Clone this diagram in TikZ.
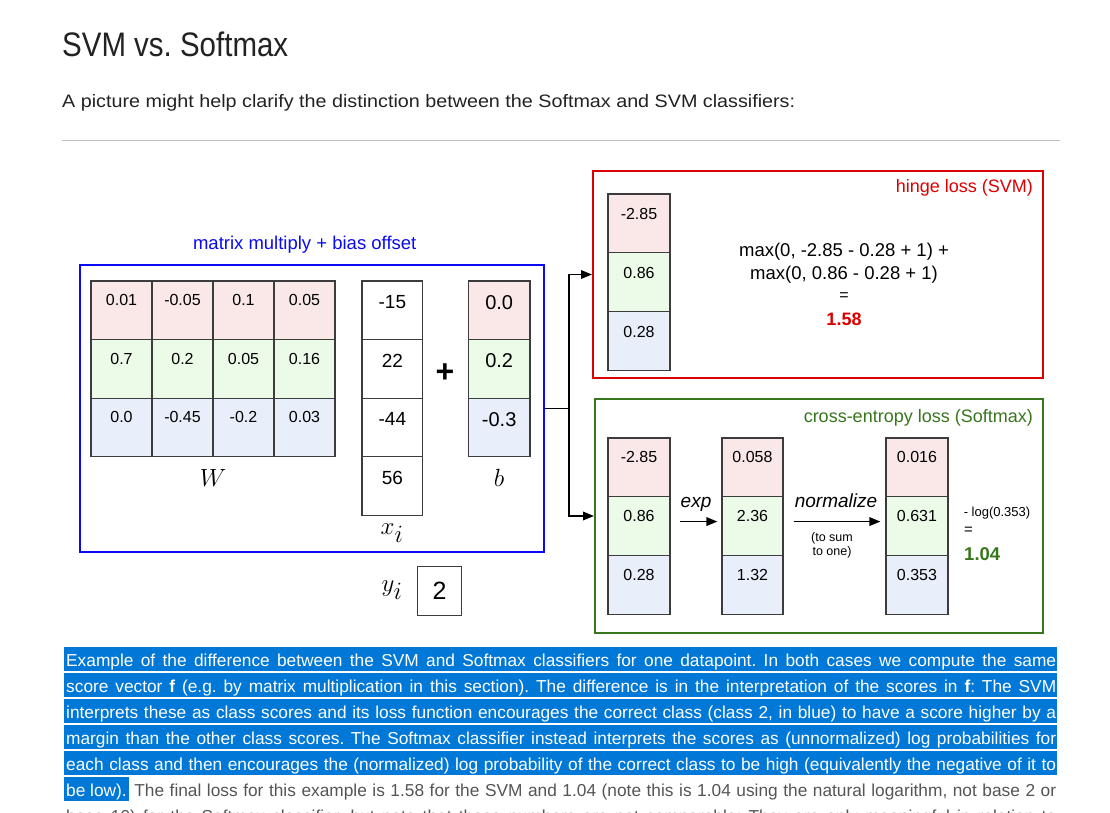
\documentclass[tikz,border=0pt]{standalone}
\usepackage{fontspec}
\usepackage{graphicx}
\setmainfont{Liberation Sans}
\usetikzlibrary{arrows.meta,calc}
\definecolor{pinkc}{RGB}{250,232,232}
\definecolor{greenc}{RGB}{236,250,232}
\definecolor{bluec}{RGB}{232,238,250}
\definecolor{cellgray}{RGB}{60,60,60}
\definecolor{boxblue}{RGB}{10,10,245}
\definecolor{boxred}{RGB}{220,0,0}
\definecolor{boxgreen}{RGB}{56,118,29}
\definecolor{hlblue}{RGB}{0,120,215}
\definecolor{bodygray}{RGB}{85,85,85}
\definecolor{titlec}{RGB}{34,34,34}
\definecolor{rulec}{RGB}{190,190,190}
\frenchspacing
\newdimen\fitlen
\newcommand\fitx[2]{\settowidth\fitlen{#2}\pgfmathsetmacro\fitfac{#1/\fitlen}\scalebox{\fitfac}[1]{#2}}
\newcommand\jline[1]{\settowidth\fitlen{#1}\ifdim\fitlen>990pt \pgfmathsetmacro\fitfac{990/\fitlen}\scalebox{\fitfac}[1]{#1}\else\makebox[990pt][s]{#1}\fi}
\newcommand\hlw[1]{\kern-2pt{\setlength\fboxsep{0pt}\colorbox{hlblue}{\rule[-5pt]{0pt}{24pt}\kern2pt\textcolor{white}{#1}\kern2pt}}}
\newcommand\capfont{\fontsize{17.3}{17.3}\selectfont}
\begin{document}
\begin{tikzpicture}[x=1pt,y=-1pt,
  cell/.style={draw=cellgray, line width=1.2pt, inner sep=0pt, anchor=center},
  txt/.style={inner sep=0pt},
  wnum/.style={txt, font=\fontsize{16}{16}\selectfont},
  vnum/.style={txt, font=\fontsize{16}{16}\selectfont},
  xnum/.style={txt, font=\fontsize{19}{19}\selectfont},
  bnum/.style={txt, font=\fontsize{20}{20}\selectfont},
  mathlbl/.style={txt, font=\fontsize{34}{34}\selectfont},
  arr/.style={line width=1.8pt, -{Triangle[length=11pt,width=8.5pt]}},
  bigbox/.style={line width=2pt, inner sep=0pt, fill=none},
  caption/.style={txt, anchor=base west, font=\capfont}
]
\useasboundingbox (0,0) rectangle (1110,812);
\fill[white] (0,0) rectangle (1110,812);

% page header
\node[txt, anchor=base west, text=titlec] (title) at (62,56) {\fitx{226}{\fontsize{34}{34}\selectfont SVM vs. Softmax}};
\node[txt, anchor=base west, text=titlec] (intro) at (62,107) {\fitx{733}{\fontsize{18}{18}\selectfont A picture might help clarify the distinction between the Softmax and SVM classifiers:}};
\draw[rulec, line width=1.5pt] (62,140.5) -- (1060,140.5);

% ---------- matrix multiply box ----------
\node[bigbox, draw=boxblue, minimum width=464.3pt, minimum height=287.6pt] (mm) at (312.15,408.5) {};
\node[txt, text=boxblue, font=\fontsize{18.5}{18.5}\selectfont] (mmlbl) at (304.7,245) {matrix multiply + bias offset};

% W
\foreach \r/\fc in {0/pinkc,1/greenc,2/bluec}{
  \foreach \c in {0,1,2,3}{
    \node[cell, fill=\fc, minimum width=61pt, minimum height=58.6pt] (W\r\c) at ({121.5+61*\c},{310.3+58.6*\r}) {};
  }
}
\foreach \r/\c/\v in {0/0/0.01,0/1/-0.05,0/2/0.1,0/3/0.05,
                      1/0/0.7,1/1/0.2,1/2/0.05,1/3/0.16,
                      2/0/0.0,2/1/-0.45,2/2/-0.2,2/3/0.03}{
  \node[wnum] (Wt\r\c) at ($(W\r\c.north)+(0,19.7)$) {\v};
}
\node[mathlbl] (Wl) at (213,478) {$W$};

% x_i
\foreach \r/\v in {0/-15,1/22,2/-44,3/56}{
  \node[cell, fill=white, minimum width=60.7pt, minimum height=58.6pt] (X\r) at ({392.35},{310.3+58.6*\r}) {};
  \node[xnum] (Xt\r) at ($(X\r.north)+(0,21.5)$) {\v};
}
\node[mathlbl] (Xl) at (392,533) {$x_i$};

% plus
\node[txt, font=\fontsize{32}{32}\selectfont\bfseries] (plus) at (445,373) {+};

% b
\foreach \r/\fc/\v in {0/pinkc/0.0,1/greenc/0.2,2/bluec/-0.3}{
  \node[cell, fill=\fc, minimum width=61.7pt, minimum height=58.6pt] (B\r) at ({499.15},{310.3+58.6*\r}) {};
  \node[bnum] (Bt\r) at ($(B\r.north)+(0,22)$) {\v};
}
\node[mathlbl] (Bl) at (499,478) {$b$};

% y_i
\node[mathlbl] (Yl) at (392,590) {$y_i$};
\node[cell, fill=white, minimum width=44.4pt, minimum height=49pt] (Y) at (439.5,591.2) {};
\node[txt, font=\fontsize{25}{25}\selectfont] (Yt) at (Y.center) {2};

% ---------- hinge loss box ----------
\node[bigbox, draw=boxred, minimum width=450pt, minimum height=207pt] (svm) at (818,274.5) {};
\node[txt, anchor=east, text=boxred, font=\fontsize{18}{18}\selectfont] (svmlbl) at (1033,188) {hinge loss (SVM)};
\foreach \r/\fc/\v in {0/pinkc/-2.85,1/greenc/0.86,2/bluec/0.28}{
  \node[cell, fill=\fc, minimum width=62pt, minimum height=58.7pt] (S\r) at (639,{223.35+58.7*\r}) {};
  \node[vnum] (St\r) at ($(S\r.north)+(0,21)$) {\v};
}
\node[txt, font=\fontsize{18.5}{18.5}\selectfont] (f1) at (844,252) {max(0, -2.85 - 0.28 + 1) +};
\node[txt, font=\fontsize{18.5}{18.5}\selectfont] (f2) at (844,275) {max(0, 0.86 - 0.28 + 1)};
\node[txt, font=\fontsize{16}{16}\selectfont] (f3) at (844,296.5) {=};
\node[txt, text=boxred, font=\fontsize{18}{18}\selectfont\bfseries] (f4) at (844,319) {1.58};

% ---------- cross-entropy box ----------
\node[bigbox, draw=boxgreen, minimum width=448pt, minimum height=234pt] (sm) at (819,516) {};
\node[txt, anchor=east, text=boxgreen, font=\fontsize{18}{18}\selectfont] (smlbl) at (1033,418) {cross-entropy loss (Softmax)};
\foreach \r/\fc/\va/\vb/\vc in {0/pinkc/-2.85/0.058/0.016,1/greenc/0.86/2.36/0.631,2/bluec/0.28/1.32/0.353}{
  \node[cell, fill=\fc, minimum width=62pt, minimum height=58.7pt] (P\r) at (639,{467.35+58.7*\r}) {};
  \node[vnum] (Pt\r) at ($(P\r.north)+(0,20)$) {\va};
  \node[cell, fill=\fc, minimum width=61pt, minimum height=58.7pt] (E\r) at (752.5,{467.35+58.7*\r}) {};
  \node[vnum] (Et\r) at ($(E\r.north)+(0,20)$) {\vb};
  \node[cell, fill=\fc, minimum width=62pt, minimum height=58.7pt] (N\r) at (917,{467.35+58.7*\r}) {};
  \node[vnum] (Nt\r) at ($(N\r.north)+(0,20)$) {\vc};
}
\draw[arr] ($(P1.east)+(9,-4.5)$) -- ($(E1.west)+(-4,-4.5)$);
\draw[arr] ($(E1.east)+(10,-4.5)$) -- ($(N1.west)+(-5,-4.5)$);
\node[txt, anchor=base, font=\fontsize{19}{19}\selectfont\itshape] (explbl) at (696,507) {exp};
\node[txt, anchor=base, font=\fontsize{19}{19}\selectfont\itshape] (normlbl) at (836,507) {normalize};
\node[txt, font=\fontsize{12.5}{12.5}\selectfont] (sum1) at (832,538) {(to sum};
\node[txt, font=\fontsize{12.5}{12.5}\selectfont] (sum2) at (832,552) {to one)};
\node[txt, font=\fontsize{13}{13}\selectfont] (loglbl) at (997,513) {- log(0.353)};
\node[txt, anchor=west, font=\fontsize{15}{15}\selectfont] (eq2) at (964,531) {=};
\node[txt, anchor=west, text=boxgreen, font=\fontsize{18.5}{18.5}\selectfont\bfseries] (res2) at (964,554) {1.04};

% ---------- connectors ----------
\coordinate (split) at (569,408.5);
\draw[line width=1.8pt] (mm.east) -- (split);
\draw[arr] (split) |- (svm.west);
\draw[arr] (split) |- (sm.west);

% ---------- caption ----------
\foreach \k in {0,1,2,3,4}{
  \fill[hlblue] (64,{647+26*\k}) rectangle (1057,{671+26*\k});
}
\node[caption, text=white] (c1) at (66,666) {\jline{Example of the difference between the SVM and Softmax classifiers for one datapoint. In both cases we compute the same}};
\node[caption, text=white] (c2) at (66,692) {\jline{score vector \textbf{f} (e.g. by matrix multiplication in this section). The difference is in the interpretation of the scores in \textbf{f}: The SVM}};
\node[caption, text=white] (c3) at (66,718) {\jline{interprets these as class scores and its loss function encourages the correct class (class 2, in blue) to have a score higher by a}};
\node[caption, text=white] (c4) at (66,744) {\jline{margin than the other class scores. The Softmax classifier instead interprets the scores as (unnormalized) log probabilities for}};
\node[caption, text=white] (c5) at (66,770) {\jline{each class and then encourages the (normalized) log probability of the correct class to be high (equivalently the negative of it to}};
\node[caption, text=bodygray] (c6) at (66,796) {\jline{\hlw{be low).} The final loss for this example is 1.58 for the SVM and 1.04 (note this is 1.04 using the natural logarithm, not base 2 or}};
\begin{scope}
\clip (0,0) rectangle (1110,812);
\node[caption, text=bodygray] (c7) at (66,822) {\jline{base 10) for the Softmax classifier, but note that these numbers are not comparable; They are only meaningful in relation to}};
\end{scope}
\end{tikzpicture}
\end{document}
